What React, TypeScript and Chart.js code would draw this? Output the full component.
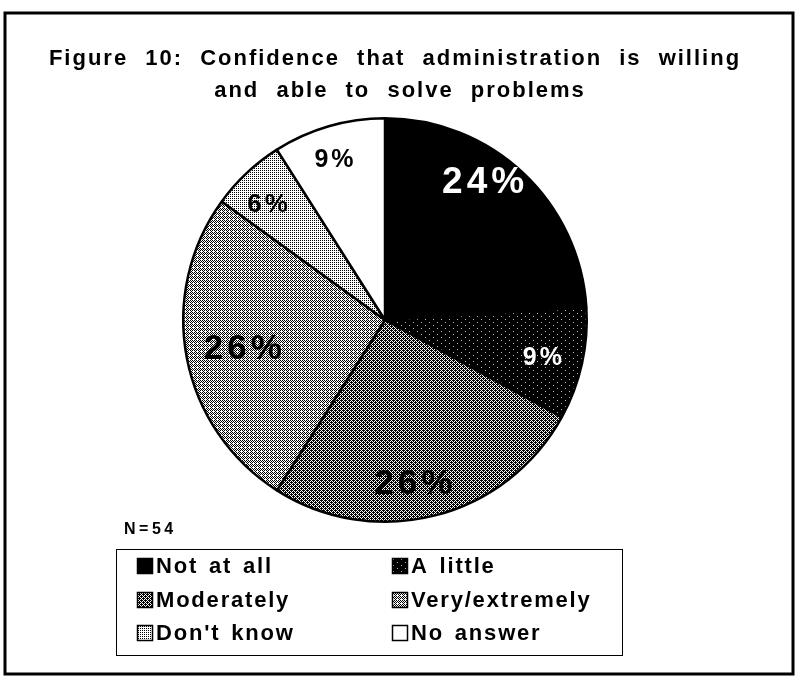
import React, { useEffect, useRef } from "react";
import { Chart, registerables } from "chart.js";

Chart.register(...registerables);

const categories = ["Not at all", "A little", "Moderately", "Very/extremely", "Don't know", "No answer"];
const percentValues = [24, 9, 26, 26, 6, 9];
const valueLabels = ["24%", "9%", "26%", "26%", "6%", "9%"];
const titleLines = ["Figure 10: Confidence that administration is willing", "and able to solve problems"];
const sampleNote = "N=54";

// styling (not data)
const labelColors = ["#fff", "#fff", "#000", "#000", "#000", "#000"];
const labelSizes = [37, 25, 35, 35, 26, 25];
const labelRadius = [0.84, 0.81, 0.83, 0.71, 0.81, 0.83];
const labelAngleShift = [-7, 1, 4, -1, -2, -1];

const FONT = '"Liberation Sans", Arial, sans-serif';

function ditherPattern(density: number): CanvasPattern | string {
  const bayer = [
    [0, 8, 2, 10],
    [12, 4, 14, 6],
    [3, 11, 1, 9],
    [15, 7, 13, 5],
  ];
  const c = document.createElement("canvas");
  c.width = 4;
  c.height = 4;
  const g = c.getContext("2d")!;
  g.fillStyle = "#fff";
  g.fillRect(0, 0, 4, 4);
  g.fillStyle = "#000";
  for (let y = 0; y < 4; y++) {
    for (let x = 0; x < 4; x++) {
      if (bayer[y][x] < density * 16) g.fillRect(x, y, 1, 1);
    }
  }
  return g.createPattern(c, "repeat") || "#888";
}

function dottedBlack(): CanvasPattern | string {
  const c = document.createElement("canvas");
  c.width = 8;
  c.height = 6;
  const g = c.getContext("2d")!;
  g.fillStyle = "#000";
  g.fillRect(0, 0, 8, 6);
  g.fillStyle = "#bbb";
  g.fillRect(1, 1, 1, 1);
  g.fillRect(5, 4, 1, 1);
  return g.createPattern(c, "repeat") || "#111";
}

export default function App() {
  const ref = useRef<HTMLCanvasElement | null>(null);

  useEffect(() => {
    document.body.style.margin = "0";
    const canvas = ref.current!;
    const fills = [
      "#000",
      dottedBlack(),
      ditherPattern(0.62),
      ditherPattern(0.4),
      ditherPattern(0.2),
      "#fff",
    ];

    const framePlugin = {
      id: "frame",
      afterDraw(chart: any) {
        const ctx = chart.ctx as CanvasRenderingContext2D;
        ctx.save();
        // outer frame
        ctx.strokeStyle = "#000";
        ctx.lineWidth = 3;
        ctx.strokeRect(5, 13, 788, 661);
        // title
        ctx.fillStyle = "#000";
        ctx.textAlign = "center";
        ctx.textBaseline = "alphabetic";
        ctx.font = `bold 22px ${FONT}`;
        (ctx as any).letterSpacing = "2px";
        (ctx as any).wordSpacing = "9px";
        ctx.fillText(titleLines[0], 395, 65);
        ctx.fillText(titleLines[1], 400, 97);
        // N note
        ctx.textAlign = "left";
        ctx.font = `bold 16px ${FONT}`;
        (ctx as any).letterSpacing = "3.5px";
        (ctx as any).wordSpacing = "0px";
        ctx.fillText(sampleNote, 124, 534);
        // legend box
        ctx.lineWidth = 1;
        ctx.strokeRect(116.5, 549.5, 506, 106);
        const items = chart.data.labels as string[];
        const ds = chart.data.datasets[0];
        const colX = [137, 392];
        const rowY = [566, 600, 633];
        ctx.font = `bold 22px ${FONT}`;
        (ctx as any).letterSpacing = "1.8px";
        (ctx as any).wordSpacing = "3px";
        ctx.textBaseline = "middle";
        items.forEach((lab, i) => {
          const x = colX[i % 2];
          const y = rowY[Math.floor(i / 2)];
          ctx.fillStyle = ds.backgroundColor[i];
          ctx.fillRect(x, y - 8, 16, 16);
          ctx.strokeStyle = "#000";
          ctx.lineWidth = 1.5;
          ctx.strokeRect(x + 0.5, y - 7.5, 15, 15);
          ctx.fillStyle = "#000";
          ctx.fillText(lab, x + 19, y + 1);
        });
        ctx.restore();
      },
    };

    const labelPlugin = {
      id: "sliceLabels",
      afterDatasetsDraw(chart: any) {
        const ctx = chart.ctx as CanvasRenderingContext2D;
        const meta = chart.getDatasetMeta(0);
        ctx.save();
        ctx.textAlign = "center";
        ctx.textBaseline = "middle";
        meta.data.forEach((arc: any, i: number) => {
          const p = arc.getProps(["x", "y", "startAngle", "endAngle", "outerRadius"], true);
          const mid = (p.startAngle + p.endAngle) / 2 + (labelAngleShift[i] * Math.PI) / 180;
          const r = p.outerRadius * labelRadius[i];
          const x = p.x + Math.cos(mid) * r;
          const y = p.y + Math.sin(mid) * r;
          ctx.font = `bold ${labelSizes[i]}px ${FONT}`;
          (ctx as any).letterSpacing = `${Math.round(labelSizes[i] / 9)}px`;
          ctx.fillStyle = labelColors[i];
          ctx.fillText(valueLabels[i], x, y);
        });
        ctx.restore();
      },
    };

    const chart = new Chart(canvas, {
      type: "pie",
      data: {
        labels: categories,
        datasets: [
          {
            data: percentValues,
            backgroundColor: fills as any,
            borderColor: "#000",
            borderWidth: 2.5,
          },
        ],
      },
      options: {
        responsive: false,
        animation: false,
        devicePixelRatio: 1,
        layout: { padding: { left: 182, right: 211, top: 117, bottom: 157 } },
        plugins: {
          legend: { display: false },
          tooltip: { enabled: false },
          title: { display: false },
        },
      },
      plugins: [framePlugin, labelPlugin],
    });
    return () => chart.destroy();
  }, []);

  return <canvas ref={ref} width={799} height={680} style={{ display: "block" }} />;
}
